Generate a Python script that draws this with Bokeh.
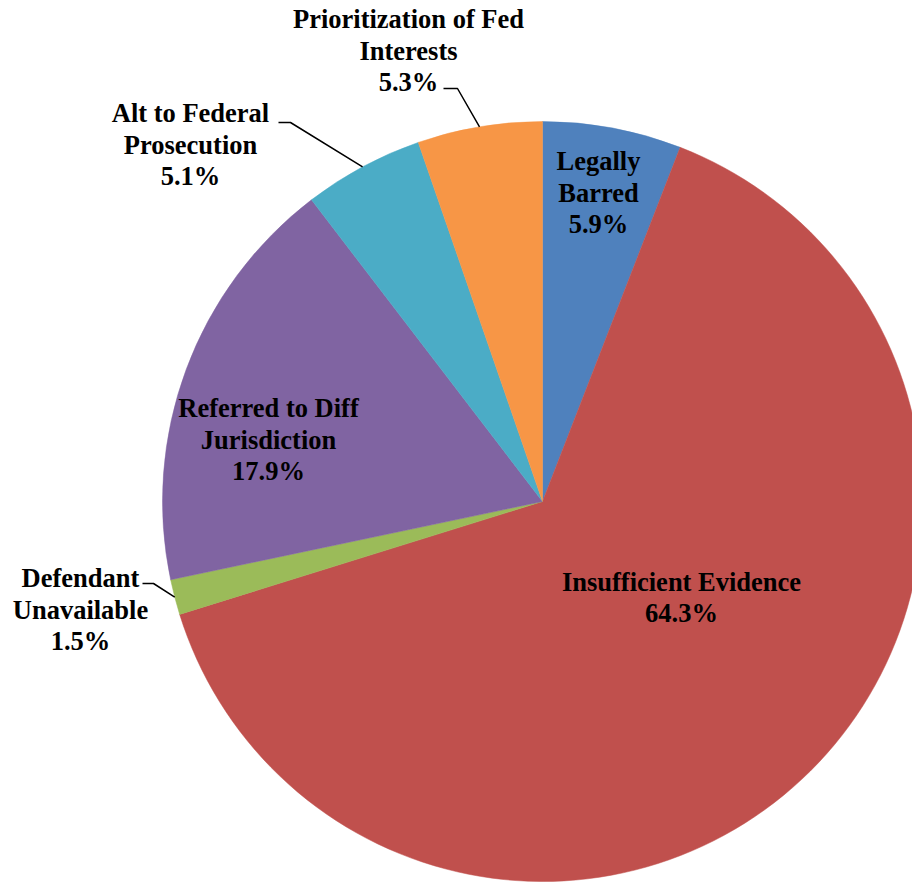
import math
from bokeh.plotting import figure
from bokeh.models import Range1d, ColumnDataSource
from bokeh.core.properties import value
from bokeh.embed import file_html
from bokeh.resources import INLINE

# ---- data ----
categories = ["Legally Barred", "Insufficient Evidence", "Defendant Unavailable",
              "Referred to Diff Jurisdiction", "Alt to Federal Prosecution",
              "Prioritization of Fed Interests"]
shares = [5.9, 64.3, 1.5, 17.9, 5.1, 5.3]
label_names = ["Legally\nBarred", "Insufficient Evidence", "Defendant\nUnavailable",
               "Referred to Diff\nJurisdiction", "Alt to Federal\nProsecution",
               "Prioritization of Fed\nInterests"]
colors = ["#4F81BD", "#C0504D", "#9BBB59", "#8064A2", "#4BACC6", "#F79646"]

# ---- layout (pixel coords, y down) ----
W, H = 912, 882
CX, CY, R = 542, 501, 380
label_pos = [(598, 192), (681, 597), (80, 609), (268, 439), (190, 144), (408, 50)]
# leader elbows for outside labels: index -> (start, elbow)
leaders = {2: ((142, 583), (153, 583)), 4: ((278, 122), (290, 122)), 5: ((443, 88), (457, 88))}

def fy(py):
    return H - py

total = sum(shares)
starts, ends, mids = [], [], []
a = math.pi / 2
for s in shares:
    sweep = 2 * math.pi * s / total
    starts.append(a - sweep)
    ends.append(a)
    mids.append(a - sweep / 2)
    a -= sweep

p = figure(width=W, height=H, output_backend="svg", toolbar_location=None,
           x_range=Range1d(0, W), y_range=Range1d(0, H), min_border=0)
p.axis.visible = False
p.grid.visible = False
p.outline_line_color = None
p.background_fill_color = "white"

src = ColumnDataSource(dict(start=starts, end=ends, color=colors))
p.wedge(x=CX, y=fy(CY), radius=R, start_angle="start", end_angle="end",
        fill_color="color", line_color="color", line_width=0.5, source=src)

# leader lines
for i, (p0, p1) in leaders.items():
    ex = CX + R * math.cos(mids[i])
    ey = fy(CY) + R * math.sin(mids[i])
    p.line([p0[0], p1[0], ex], [fy(p0[1]), fy(p1[1]), ey], line_color="black", line_width=1.5)

texts = [f"{n}\n{s:.1f}%" for n, s in zip(label_names, shares)]
lsrc = ColumnDataSource(dict(x=[q[0] for q in label_pos], y=[fy(q[1]) for q in label_pos], t=texts))
p.text(x="x", y="y", text="t", source=lsrc, text_font=value("Liberation Serif"),
       text_font_style="bold", text_font_size="26.5px", text_align="center",
       text_baseline="middle", text_color="black", text_line_height=1.05)

open("out.html", "w").write(file_html(p, INLINE))
